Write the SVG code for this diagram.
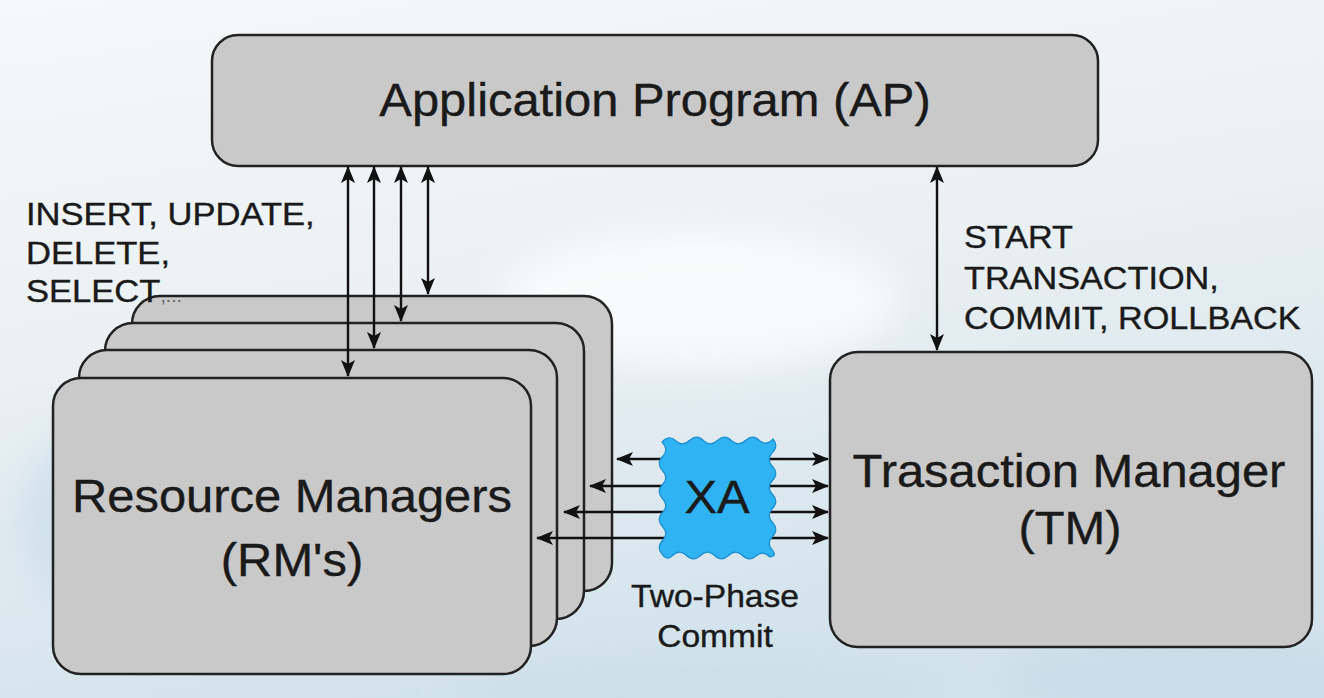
<svg xmlns="http://www.w3.org/2000/svg" width="1324" height="698" viewBox="0 0 1324 698">
<defs>
<linearGradient id="bg" x1="0" y1="0" x2="0.3" y2="1">
<stop offset="0" stop-color="#f6f8f9"/>
<stop offset="0.5" stop-color="#eaf0f3"/>
<stop offset="1" stop-color="#d3e3ec"/>
</linearGradient>
<filter id="blur" x="-50%" y="-50%" width="200%" height="200%"><feGaussianBlur stdDeviation="18"/></filter>
<marker id="ah" viewBox="0 0 17 14" refX="16" refY="7" markerWidth="17" markerHeight="14" markerUnits="userSpaceOnUse" orient="auto-start-reverse">
<path d="M0,0 L17,7 L0,14 L4,7 Z" fill="#111"/>
</marker>
<style>
.box{fill:#c9c9c9;stroke:#222;stroke-width:2.5}
.t{font-family:"Liberation Sans",Arial,sans-serif;fill:#1a1a1a;stroke:#1a1a1a;stroke-width:0.4}
.big{font-size:47px}
.sm{font-size:32px}
.c{text-anchor:middle}
.ln{stroke:#111;stroke-width:2.4;fill:none;marker-start:url(#ah);marker-end:url(#ah)}
</style>
</defs>
<rect width="1324" height="698" fill="url(#bg)"/>
<g filter="url(#blur)" opacity="0.7">
<ellipse cx="180" cy="520" rx="160" ry="120" fill="#c9dde9"/>
<ellipse cx="700" cy="300" rx="200" ry="70" fill="#ffffff"/>
<ellipse cx="1200" cy="680" rx="200" ry="40" fill="#c5d9e6"/>
<ellipse cx="700" cy="690" rx="250" ry="30" fill="#cadde8"/>
</g>

<g id="rm-stack">
<rect class="box" x="132" y="296" width="480" height="295" rx="28"/>
<rect class="box" x="105" y="323" width="479" height="296" rx="28"/>
<rect class="box" x="79" y="350" width="478" height="296" rx="28"/>
<rect class="box" x="53" y="378" width="478" height="296" rx="28"/>
<text class="t big c" transform="translate(292,512) scale(1.04,1)">Resource Managers</text>
<text class="t big c" transform="translate(292,576) scale(1.04,1)">(RM's)</text>
</g>

<g id="ap">
<rect class="box" x="212" y="35" width="886" height="131" rx="26"/>
<text class="t big c" transform="translate(655,116) scale(1.04,1)">Application Program (AP)</text>
</g>

<g id="tm">
<rect class="box" x="830" y="352" width="482" height="295" rx="28"/>
<text class="t big c" transform="translate(1069,487) scale(1.04,1)">Trasaction Manager</text>
<text class="t big c" transform="translate(1070,544) scale(1.04,1)">(TM)</text>
</g>

<g id="connectors">
<line class="ln" x1="348" y1="167" x2="348" y2="376"/>
<line class="ln" x1="374" y1="167" x2="374" y2="348"/>
<line class="ln" x1="401" y1="167" x2="401" y2="321"/>
<line class="ln" x1="428" y1="167" x2="428" y2="294"/>
<line class="ln" x1="937" y1="167" x2="937" y2="350"/>
<line class="ln" x1="617" y1="459" x2="828" y2="459"/>
<line class="ln" x1="590" y1="486" x2="828" y2="486"/>
<line class="ln" x1="564" y1="512" x2="828" y2="512"/>
<line class="ln" x1="537" y1="538" x2="828" y2="538"/>
</g>

<g id="xa">
<path d="M662,442 Q669,434 676,441 Q683,447 690,440 Q697,434 704,441 Q711,447 718,440 Q725,434 732,441 Q739,447 746,440 Q753,434 760,441 Q767,446 773,439 Q779,446 772,453 Q766,460 773,467 Q779,474 772,481 Q766,488 773,495 Q779,502 772,509 Q766,516 773,523 Q779,530 772,537 Q766,544 773,551 Q777,556 770,557 Q763,550 756,556 Q749,562 742,555 Q735,549 728,556 Q721,562 714,555 Q707,549 700,556 Q693,562 686,555 Q679,549 672,556 Q666,561 662,554 Q656,547 663,540 Q669,533 662,526 Q656,519 663,512 Q669,505 662,498 Q656,491 663,484 Q669,477 662,470 Q656,463 663,456 Q669,449 662,442 Z" fill="#2fb3f3" stroke="#1b8fd0" stroke-width="1.2"/>
<text class="t big c" transform="translate(717,513) scale(1.04,1)">XA</text>
</g>

<g id="labels">
<text class="t sm" transform="translate(26,225) scale(1.08,1)">INSERT, UPDATE,</text>
<text class="t sm" transform="translate(26,264) scale(1.08,1)">DELETE,</text>
<text class="t sm" transform="translate(26,302) scale(1.08,1)">SELECT<tspan font-size="18" fill="#666" stroke="none">,...</tspan></text>
<text class="t sm" transform="translate(964,248) scale(1.07,1)">START</text>
<text class="t sm" transform="translate(964,289) scale(1.07,1)">TRANSACTION,</text>
<text class="t sm" transform="translate(964,329) scale(1.07,1)">COMMIT, ROLLBACK</text>
<text class="t sm c" transform="translate(715,607) scale(1.05,1)">Two-Phase</text>
<text class="t sm c" transform="translate(715,647) scale(1.05,1)">Commit</text>
</g>
</svg>
